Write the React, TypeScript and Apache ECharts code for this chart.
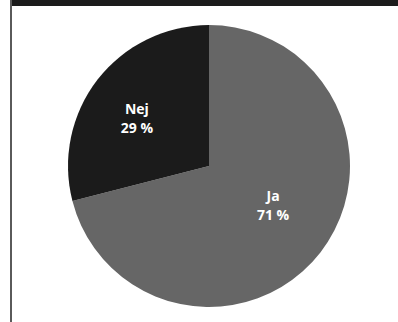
import React, { useEffect, useRef } from "react";
import * as echarts from "echarts";

const categories = ["Ja", "Nej"];
const values = [71, 29];
const sliceColors = ["#666666", "#1b1b1b"];
const labelOffsets: [number, number][] = [
  [6, -6],
  [-14, -3],
];

export default function App() {
  const ref = useRef<HTMLDivElement>(null);
  useEffect(() => {
    document.body.style.margin = "0";
    if (!ref.current) return;
    const chart = echarts.init(ref.current, null, { renderer: "svg" });
    chart.setOption({
      animation: false,
      backgroundColor: "#ffffff",
      graphic: [
        { type: "rect", shape: { x: 12, y: 0, width: 386, height: 6 }, style: { fill: "#1c1c1c" } },
        { type: "rect", shape: { x: 10, y: 0, width: 2, height: 322 }, style: { fill: "#5a5a5a" } },
      ],
      series: [
        {
          type: "pie",
          center: [209, 166],
          radius: 141,
          startAngle: 90,
          clockwise: true,
          silent: true,
          label: {
            show: true,
            position: "inside",
            color: "#ffffff",
            fontFamily: "Open Sans",
            fontWeight: "bold",
            fontSize: 14,
            lineHeight: 19,
            formatter: (p: any) => `${p.name}\n${p.value} %`,
          },
          labelLine: { show: false },
          data: categories.map((name, i) => ({
            name,
            value: values[i],
            itemStyle: { color: sliceColors[i] },
            label: { offset: labelOffsets[i] },
          })),
        },
      ],
    });
    return () => chart.dispose();
  }, []);
  return <div ref={ref} style={{ width: 398, height: 322 }} />;
}
